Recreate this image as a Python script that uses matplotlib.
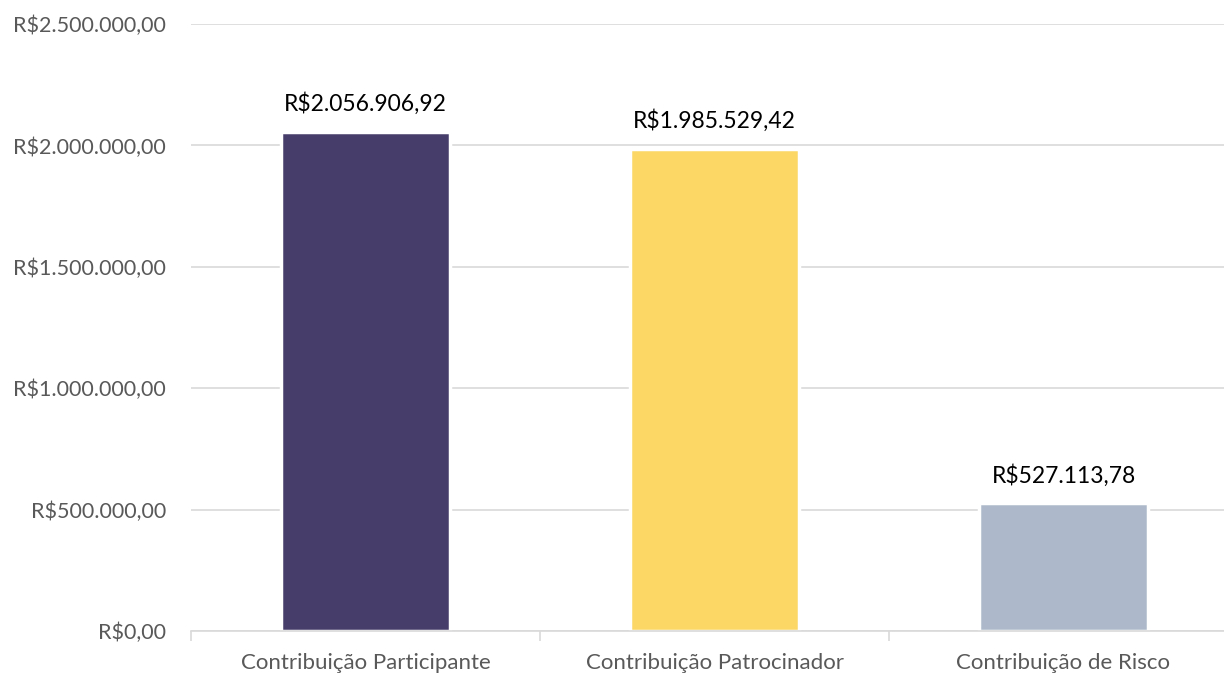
import numpy as np
import matplotlib.pyplot as plt
from matplotlib.ticker import FuncFormatter

# Data
categorias = ['Contribuição Participante', 'Contribuição Patrocinador', 'Contribuição de Risco']
valores = [2056906.92, 1985529.42, 527113.78]
cores = ['#473D6B', '#FCD766', '#ADB9CA']
y_ticks = [0, 500000, 1000000, 1500000, 2000000, 2500000]

plt.rcParams['font.family'] = ['Lato', 'DejaVu Sans']


def brl(v, pos=None):
    s = f'{v:,.2f}'
    s = s.replace(',', 'X').replace('.', ',').replace('X', '.')
    return 'R$' + s


fig = plt.figure(figsize=(12.24, 6.73), dpi=100)
# plot area runs slightly past the right edge, like the original
ax = fig.add_axes([191 / 1224, 1 - 631 / 673, (1238 - 191) / 1224, (631 - 24) / 673])

x = np.arange(len(categorias))
ax.bar(x, valores, width=0.487, color=cores, edgecolor='white', linewidth=2.5, zorder=3)

for xi, v in zip(x, valores):
    ax.annotate(brl(v), (xi, v), xytext=(0, 12), textcoords='offset points',
                ha='center', va='bottom', fontsize=16.5, color='black')

ax.set_xlim(-0.5, len(categorias) - 0.5)
ax.set_ylim(0, 2500000)
ax.set_yticks(y_ticks)
ax.yaxis.set_major_formatter(FuncFormatter(brl))
ax.grid(axis='y', color='#D9D9D9', linewidth=1.2, zorder=0)

ax.set_xticks(x)
ax.set_xticklabels(categorias)
ax.set_xticks(np.arange(-0.5, len(categorias), 1), minor=True)
ax.tick_params(axis='x', which='major', length=0, pad=16, labelsize=16, labelcolor='#595959')
ax.tick_params(axis='x', which='minor', length=7, color='#D9D9D9', width=1.2)
ax.tick_params(axis='y', length=0, pad=18, labelsize=15.5, labelcolor='#595959')

for s in ['top', 'right', 'left']:
    ax.spines[s].set_visible(False)
ax.spines['bottom'].set_color('#D9D9D9')
ax.spines['bottom'].set_linewidth(1.2)
ax.spines['bottom'].set_zorder(4)

fig.savefig('out.png', dpi=100)
